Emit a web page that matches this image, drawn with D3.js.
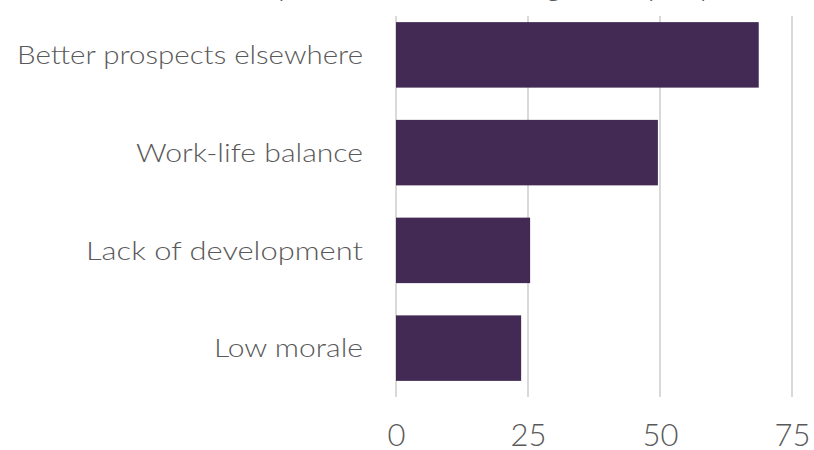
<!DOCTYPE html>
<html>
<head>
<meta charset="utf-8">
<script src="https://cdn.jsdelivr.net/npm/d3@7"></script>
<style>
  html, body { margin: 0; padding: 0; background: #fff; }
  svg { display: block; }
  text { font-family: Lato, "Noto Sans", sans-serif; font-weight: 300; fill: #595959; }
</style>
</head>
<body>
<svg id="chart" width="814" height="450"></svg>
<script>
// Reasons for leaving, share of respondents (%)
const categories = ["Better prospects elsewhere", "Work-life balance", "Lack of development", "Low morale"];
const values = [68.7, 49.6, 25.4, 23.7];
const tickValues = [0, 25, 50, 75];
const titleText = "Top reasons for leaving, % of people surveyed";

const width = 814, height = 450;
const margin = { left: 396, right: 22, top: 6, bottom: 53 };

const svg = d3.select("#chart");

const x = d3.scaleLinear()
  .domain([0, 75])
  .range([margin.left, width - margin.right]);

const y = d3.scaleBand()
  .domain(categories)
  .range([margin.top, height - margin.bottom])
  .paddingInner(0.33)
  .paddingOuter(0.165);

// Title sits above the plot, mostly outside the frame
svg.append("text")
  .attr("x", 560)
  .attr("y", -5)
  .attr("text-anchor", "middle")
  .style("font-size", "32px")
  .text(titleText);

// Vertical gridlines
svg.append("g")
  .selectAll("line")
  .data(tickValues)
  .join("line")
  .attr("x1", d => x(d))
  .attr("x2", d => x(d))
  .attr("y1", 16)
  .attr("y2", height - margin.bottom)
  .attr("stroke", "#d9d9d9")
  .attr("stroke-width", 2);

// Bars
svg.append("g")
  .selectAll("rect")
  .data(categories.map((c, i) => ({ c, v: values[i] })))
  .join("rect")
  .attr("x", x(0))
  .attr("y", d => y(d.c))
  .attr("width", d => x(d.v) - x(0))
  .attr("height", y.bandwidth())
  .attr("fill", "#422a54");

// Category labels
const labelWidths = [346, 227, 277, 149];
svg.append("g")
  .selectAll("text")
  .data(categories)
  .join("text")
  .attr("x", x(0) - 33)
  .attr("y", d => y(d) + y.bandwidth() / 2)
  .attr("dy", "0.36em")
  .attr("text-anchor", "end")
  .attr("textLength", (d, i) => labelWidths[i])
  .attr("lengthAdjust", "spacingAndGlyphs")
  .style("font-size", "25.7px")
  .text(d => d);

// Value axis
const axis = d3.axisBottom(x).tickValues(tickValues).tickSize(0).tickPadding(0);
const ax = svg.append("g")
  .attr("transform", `translate(0, ${height - 4})`)
  .call(axis);
ax.select(".domain").remove();
ax.selectAll("text")
  .attr("y", 0)
  .attr("dy", 0)
  .style("font-size", "31px")
  .style("font-family", "Lato, 'Noto Sans', sans-serif")
  .attr("fill", "#595959");
</script>
</body>
</html>
